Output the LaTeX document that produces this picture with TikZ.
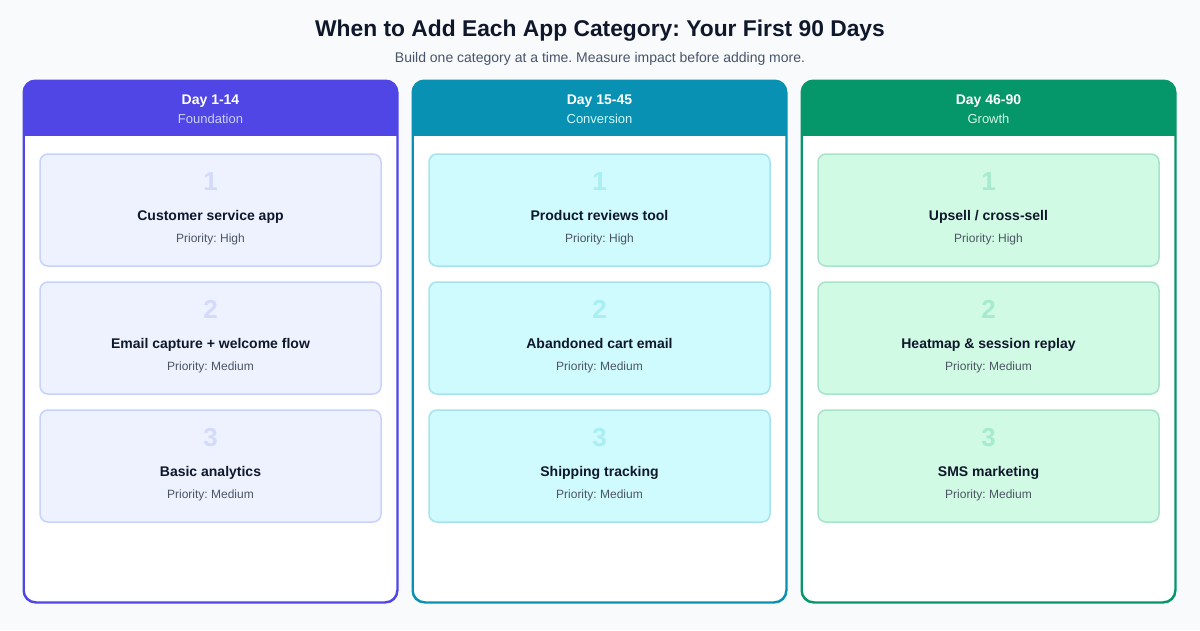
\documentclass[tikz,border=0pt]{standalone}
\usepackage{fontspec}
\setmainfont{Liberation Sans}
\frenchspacing
\definecolor{bg}{HTML}{F8FAFC}
\definecolor{ink}{HTML}{0F172A}
\definecolor{sub}{HTML}{475569}
\definecolor{pri}{HTML}{4B5563}
\definecolor{hA}{HTML}{4F46E5}\definecolor{fA}{HTML}{EEF2FF}\definecolor{bA}{HTML}{C7D2FE}\definecolor{nA}{HTML}{D4DAFC}\definecolor{sA}{HTML}{C7D2FE}
\definecolor{hB}{HTML}{0891B2}\definecolor{fB}{HTML}{CFFAFE}\definecolor{bB}{HTML}{A5E4EE}\definecolor{nB}{HTML}{A9EDF5}\definecolor{sB}{HTML}{CFFAFE}
\definecolor{hC}{HTML}{059669}\definecolor{fC}{HTML}{D1FAE5}\definecolor{bC}{HTML}{A7E3CB}\definecolor{nC}{HTML}{A7EBCF}\definecolor{sC}{HTML}{D1FAE5}
\tikzset{
  colbox/.style={draw=#1, line width=1.5pt, fill=white, rounded corners=12pt, minimum width=373pt, minimum height=521pt, inner sep=0pt},
  card/.style={rounded corners=8pt, line width=1.5pt, minimum width=341pt, minimum height=112pt, inner sep=0pt},
  numtxt/.style={anchor=base, inner sep=0pt, font=\fontsize{26}{28}\selectfont\bfseries},
  cardtitle/.style={anchor=base, inner sep=0pt, font=\fontsize{14}{16}\selectfont\bfseries, text=ink},
  pritxt/.style={anchor=base, inner sep=0pt, font=\fontsize{12}{14}\selectfont, text=pri},
  daytxt/.style={anchor=base, inner sep=0pt, font=\fontsize{14}{16}\selectfont\bfseries, text=white},
  phasetxt/.style={anchor=base, inner sep=0pt, font=\fontsize{13}{15}\selectfont},
}
\begin{document}
\begin{tikzpicture}[x=1pt,y=-1pt]
\fill[bg] (0,0) rectangle (1200,630);
\useasboundingbox (0,0) rectangle (1200,630);
\node[anchor=base, inner sep=0pt, font=\fontsize{22.8}{26}\selectfont\bfseries, text=ink] (title) at (600,36) {When to Add Each App Category: Your First 90 Days};
\node[anchor=base, inner sep=0pt, font=\fontsize{14}{16}\selectfont, text=sub] (subtitle) at (600,62) {Build one category at a time. Measure impact before adding more.};
% columns
\foreach \k/\cx/\day/\phase/\ta/\pa/\tb/\pb/\tc/\pc in {
  A/210.5/Day 1-14/Foundation/Customer service app/High/Email capture + welcome flow/Medium/Basic analytics/Medium,
  B/599.5/Day 15-45/Conversion/Product reviews tool/High/Abandoned cart email/Medium/Shipping tracking/Medium,
  C/988.5/Day 46-90/Growth/{Upsell / cross-sell}/High/Heatmap \& session replay/Medium/SMS marketing/Medium}{
  \node[colbox=h\k] (col\k) at (\cx,341.5) {};
  \begin{scope}
    \clip[rounded corners=12pt] (col\k.north west) rectangle (col\k.south east);
    \fill[h\k] (col\k.north west) rectangle ([yshift=-56pt]col\k.north east);
  \end{scope}
  \draw[h\k, line width=1.5pt, rounded corners=12pt] (col\k.north west) rectangle (col\k.south east);
  \node[daytxt] (day\k) at (\cx,104) {\day};
  \node[phasetxt, text=s\k] (phase\k) at (\cx,123.5) {\phase};
  \foreach \i/\cy/\t/\p in {1/210/\ta/\pa, 2/338/\tb/\pb, 3/466/\tc/\pc}{
    \node[card, draw=b\k, fill=f\k] (card\k\i) at (\cx,\cy) {};
    \node[numtxt, text=n\k] (num\k\i) at (\cx,\cy-19.5) {\i};
    \node[cardtitle] (ct\k\i) at (\cx,\cy+10) {\t};
    \node[pritxt] (pr\k\i) at (\cx,\cy+32) {Priority: \p};
  }
}
\end{tikzpicture}
\end{document}
